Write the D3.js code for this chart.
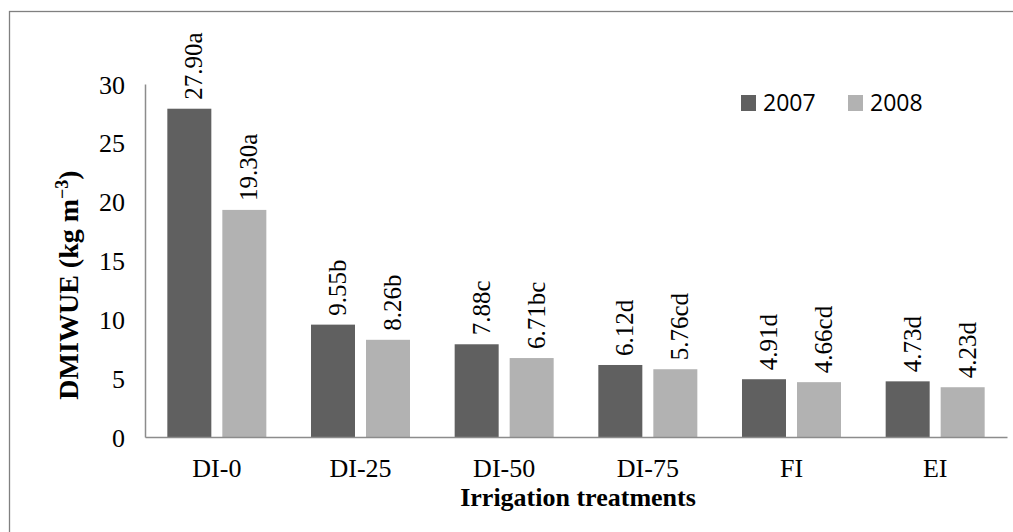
<!DOCTYPE html>
<html>
<head>
<meta charset="utf-8">
<script src="https://cdn.jsdelivr.net/npm/d3@7"></script>
<style>
  body { margin: 0; background: #fff; }
</style>
</head>
<body>
<svg id="canvas" width="1013" height="532"></svg>
<script>
// chart data
let treatments = ["DI-0", "DI-25", "DI-50", "DI-75", "FI", "EI"];
let years = ["2007", "2008"];
let values2007 = [27.90, 9.55, 7.88, 6.12, 4.91, 4.73];
let values2008 = [19.30, 8.26, 6.71, 5.76, 4.66, 4.23];
let letters2007 = ["a", "b", "c", "d", "d", "d"];
let letters2008 = ["a", "b", "bc", "cd", "cd", "d"];
let yTicks = [0, 5, 10, 15, 20, 25, 30];

let colors = { "2007": "#606060", "2008": "#b2b2b2" };
let serif = "'Liberation Serif', 'Times New Roman', serif";

let width = 1013;
let height = 532;
let plotLeft = 145, plotRight = 1007, plotTop = 84, plotBottom = 437;

let canvas = d3.select("#canvas");

// outer frame (runs off the right and bottom edge like the original)
canvas.append("rect")
  .attr("x", 9.5).attr("y", 11.5)
  .attr("width", 1020).attr("height", 540)
  .attr("fill", "none").attr("stroke", "#808080").attr("stroke-width", 1.3);

let x0 = d3.scaleBand().domain(treatments).range([plotLeft, plotRight]).padding(0);
let x1 = d3.scaleBand().domain(years).range([0, x0.bandwidth()])
  .paddingInner(0.2).paddingOuter(0.406);
let y = d3.scaleLinear().domain([0, 30]).range([plotBottom, plotTop]);

let rows = treatments.map((t, i) => ({
  t: t,
  bars: [
    { year: "2007", v: values2007[i], lab: values2007[i].toFixed(2) + letters2007[i] },
    { year: "2008", v: values2008[i], lab: values2008[i].toFixed(2) + letters2008[i] }
  ]
}));

let groups = canvas.selectAll("g.grp")
  .data(rows)
  .enter()
  .append("g")
  .attr("class", "grp")
  .attr("transform", d => `translate(${x0(d.t)},0)`);

groups.selectAll("rect")
  .data(d => d.bars)
  .enter()
  .append("rect")
  .attr("x", d => x1(d.year))
  .attr("y", d => y(d.v))
  .attr("width", x1.bandwidth())
  .attr("height", d => y(0) - y(d.v))
  .attr("fill", d => colors[d.year]);

// rotated value labels
groups.selectAll("text.lab")
  .data(d => d.bars)
  .enter()
  .append("text")
  .attr("class", "lab")
  .attr("transform", d => `translate(${x1(d.year) + x1.bandwidth() / 2 + 13},${y(d.v) - 9}) rotate(-90)`)
  .style("font-family", serif)
  .style("font-size", "25px")
  .attr("fill", "#000")
  .text(d => d.lab);

// y axis
let yAxis = d3.axisLeft(y).tickValues(yTicks).tickSize(0).tickPadding(20);
let gy = canvas.append("g").attr("transform", `translate(${plotLeft},0)`).call(yAxis);
gy.select(".domain").attr("stroke", "#8c8c8c").attr("stroke-width", 1.5);
gy.selectAll("text").style("font-size", "26px").style("font-family", serif).attr("fill", "#000").attr("dy", "0.35em");

// x axis
let xAxis = d3.axisBottom(x0).tickSize(0).tickPadding(22);
let gx = canvas.append("g").attr("transform", `translate(0,${plotBottom})`).call(xAxis);
gx.select(".domain").attr("stroke", "#8c8c8c").attr("stroke-width", 1.5);
gx.selectAll("text").style("font-size", "26px").style("font-family", serif).attr("fill", "#000").attr("dy", "0.71em");

// axis titles
canvas.append("text")
  .attr("transform", "translate(78,285) rotate(-90)")
  .attr("text-anchor", "middle")
  .style("font-family", serif)
  .style("font-size", "28px")
  .attr("font-weight", "bold")
  .html('DMIWUE (kg m<tspan baseline-shift="super" font-size="18">−3</tspan>)');

canvas.append("text")
  .attr("x", 578).attr("y", 506)
  .attr("text-anchor", "middle")
  .style("font-family", serif)
  .style("font-size", "26px")
  .attr("font-weight", "bold")
  .text("Irrigation treatments");

// legend
let legend = canvas.selectAll("g.leg")
  .data(years)
  .enter()
  .append("g")
  .attr("class", "leg")
  .attr("transform", (d, i) => `translate(${741 + i * 107},95)`);

legend.append("rect")
  .attr("width", 15).attr("height", 16)
  .attr("fill", d => colors[d]);

legend.append("text")
  .attr("x", 22).attr("y", 16)
  .style("font-size", "23px")
  .style("font-family", "'Open Sans', sans-serif")
  .text(d => d);
</script>
</body>
</html>
